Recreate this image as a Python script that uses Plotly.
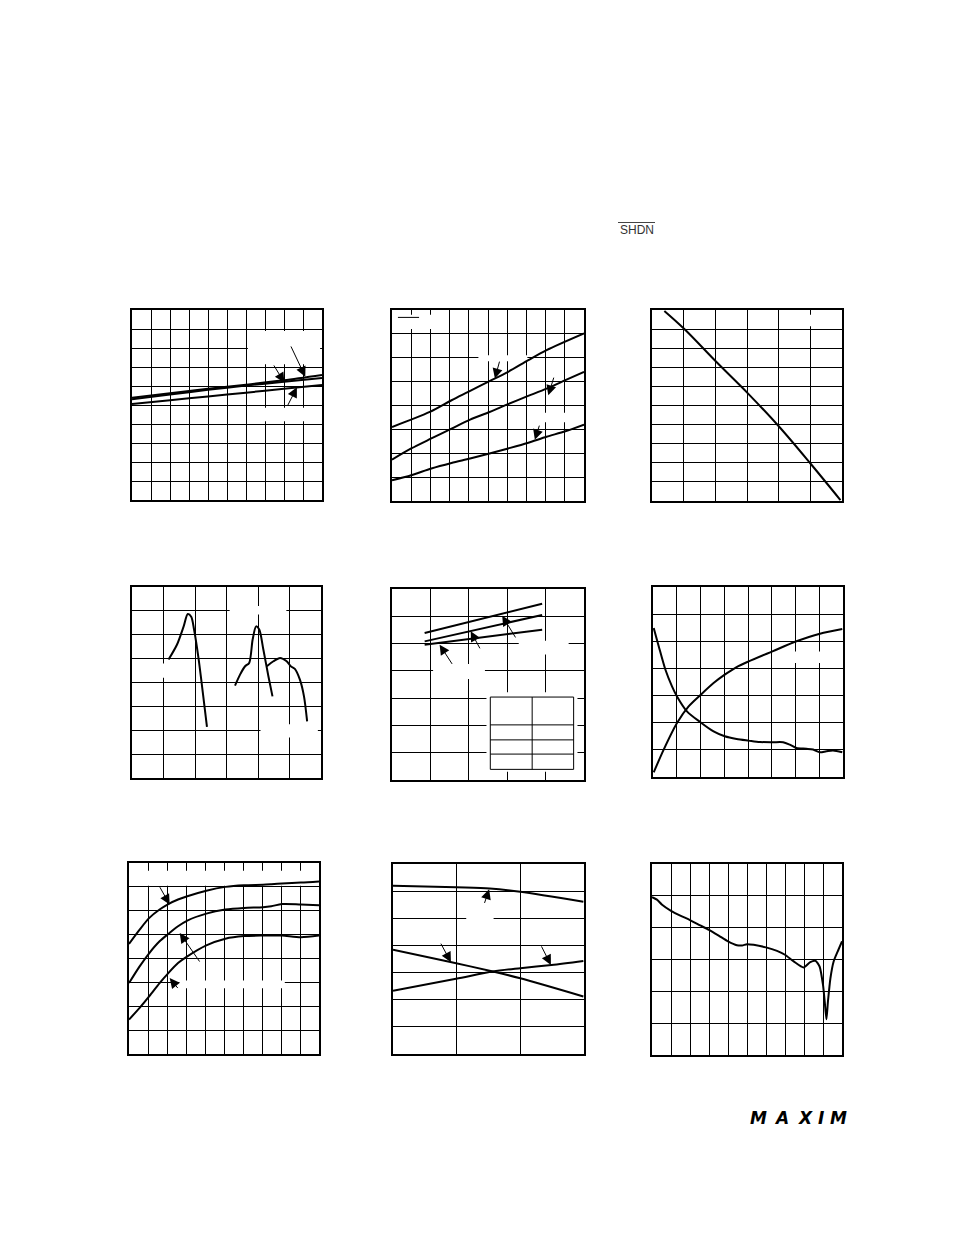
import plotly.graph_objects as go

W, H = 954, 1235
OFF = 8  # page body margin offset in the browser

# ---------------- data (grid units) ----------------
# Panel 1: three nearly parallel curves
p1_x = [0, 2, 4, 6, 8, 10]
p1_a = [5.38, 5.62, 5.85, 6.07, 6.30, 6.58]
p1_b = [5.30, 5.55, 5.80, 6.02, 6.22, 6.42]
p1_c = [5.05, 5.25, 5.45, 5.65, 5.85, 6.05]

# Panel 2: three rising curves
p2_top_x = [0, 1.97, 3.1, 3.97, 5.08, 6.05, 7.1, 8.05, 10]
p2_top_y = [3.1, 3.73, 4.22, 4.57, 5.02, 5.41, 5.9, 6.32, 7.02]
p2_x = [0, 1.0, 2.05, 3.1, 4.07, 5.08, 6.05, 7.06, 8.05, 9.03, 10]
p2_mid = [1.73, 2.2, 2.62, 3.03, 3.41, 3.73, 4.06, 4.39, 4.71, 5.06, 5.41]
p2_bot = [0.87, 1.08, 1.36, 1.59, 1.78, 1.99, 2.2, 2.43, 2.69, 2.92, 3.2]

# Panel 3: falling curve
p3_x = [0.39, 1.03, 2.02, 3.02, 4.01, 5.01, 5.95]
p3_y = [9.95, 8.99, 7.3, 5.65, 3.9, 1.95, 0.05]

# Panel 4: three peaked curves
p4_ax = [1.16, 1.43, 1.64, 1.77, 1.88, 1.97, 2.11, 2.25, 2.38]
p4_ay = [4.96, 5.59, 6.35, 6.87, 6.75, 6.22, 5.03, 3.56, 2.14]
p4_bx = [3.27, 3.43, 3.59, 3.72, 3.83, 3.94, 4.04, 4.17, 4.33, 4.46]
p4_by = [3.87, 4.33, 4.68, 4.82, 5.80, 6.35, 6.22, 5.38, 4.26, 3.42]
p4_cx = [4.28, 4.49, 4.70, 4.91, 5.04, 5.17, 5.33, 5.46, 5.56]
p4_cy = [4.68, 4.89, 5.03, 4.89, 4.68, 4.57, 4.12, 3.42, 2.37]

# Panel 5: three straight lines
p5_x = [0.85, 3.91]
p5_top = [5.39, 6.46]
p5_mid = [5.08, 6.05]
p5_bot = [4.96, 5.51]

# Panel 6: rising and falling curves
p6_rx = [0.03, 0.45, 1.01, 1.5, 2.01, 2.55, 3.02, 3.52, 4.03, 5.03, 6.04, 7.03, 7.97]
p6_ry = [0.17, 1.01, 1.99, 2.6, 3.03, 3.46, 3.77, 4.05, 4.26, 4.63, 5.0, 5.28, 5.45]
p6_fx = [0.03, 0.24, 0.52, 0.8, 1.01, 1.43, 2.01, 2.55, 3.02, 3.52, 4.03, 4.5, 5.03,
         5.48, 5.76, 6.04, 6.46, 6.74, 7.03, 7.3, 7.58, 7.97]
p6_fy = [5.49, 4.82, 3.96, 3.34, 2.97, 2.42, 2.01, 1.68, 1.5, 1.4, 1.34, 1.29, 1.28,
         1.28, 1.19, 1.07, 1.04, 1.01, 0.91, 0.95, 0.98, 0.91]

# Panel 7: three saturating curves
p7_x = [0, 0.56, 1.07, 1.61, 2.07, 2.58, 3.07, 4.07, 5.07, 6.05, 7.05, 7.49, 8.05, 9.05, 10]
p7_top = [4.61, 5.21, 5.70, 6.05, 6.28, 6.47, 6.61, 6.84, 7.00, 7.07, 7.09, 7.11, 7.14, 7.18, 7.23]
p7_mid = [2.97, 3.67, 4.23, 4.72, 5.03, 5.35, 5.59, 5.88, 6.05, 6.12, 6.15, 6.19, 6.28, 6.26, 6.23]
p7_bot = [1.44, 1.93, 2.42, 2.97, 3.39, 3.81, 4.09, 4.55, 4.83, 4.94, 4.96, 4.96, 4.96, 4.89, 4.96]

# Panel 8: three curves
p8_tx = [0, 0.99, 1.52, 2.0, 2.99]
p8_ty = [6.2, 6.14, 6.1, 5.98, 5.61]
p8_fx = [0, 0.92, 1.57, 2.0, 2.99]
p8_fy = [3.84, 3.38, 3.04, 2.79, 2.12]
p8_rx = [0, 0.99, 1.57, 2.0, 2.49, 2.99]
p8_ry = [2.33, 2.77, 3.04, 3.16, 3.28, 3.43]

# Panel 9: response with notch
p9_x = [0, 0.26, 0.53, 1.0, 1.49, 2.0, 2.54, 3.0, 3.51, 4.0, 4.47, 4.74, 5.0, 5.35, 6.0,
        6.58, 7.0, 7.46, 7.98, 8.33, 8.6, 8.82, 9.0, 9.09, 9.18, 9.26, 9.39, 9.56, 9.77, 10]
p9_y = [4.96, 4.88, 4.72, 4.53, 4.38, 4.24, 4.07, 3.93, 3.75, 3.57, 3.45, 3.44, 3.48, 3.46, 3.38,
        3.27, 3.15, 2.94, 2.75, 2.92, 2.96, 2.78, 2.2, 1.68, 1.12, 1.68, 2.41, 2.94, 3.25, 3.57]

# Arrow annotations: (panel, tail_x, tail_y, head_x, head_y)
arrows = [
    (1, 8.33, 8.16, 9.12, 6.49), (1, 7.42, 7.16, 8.02, 6.18), (1, 8.16, 4.91, 8.68, 5.93),
    (2, 5.62, 5.9, 5.36, 5.13), (2, 8.45, 5.23, 8.14, 4.43), (2, 7.7, 3.22, 7.44, 2.57),
    (5, 1.59, 4.2, 1.24, 4.96), (5, 2.31, 4.77, 2.05, 5.45), (5, 3.24, 5.17, 2.87, 6.02),
    (7, 1.58, 7.05, 2.14, 6.26), (7, 3.77, 3.81, 2.67, 5.07), (7, 2.63, 2.7, 2.14, 3.18),
    (8, 1.43, 5.51, 1.51, 6.07), (8, 0.74, 4.12, 0.91, 3.38), (8, 2.32, 4.02, 2.48, 3.28),
]

# Panel 5 inset table (grid units)
tbl_x = [2.56, 3.65, 4.73]
tbl_y = [0.39, 0.95, 1.47, 2.02, 3.04]

# ---------------- layout geometry ----------------
# (left px, right px, top px, bottom px, columns, rows)
panels = [
    (132, 322, 310, 500, 10, 10),
    (392, 584, 310, 501, 10, 8),
    (652, 842, 310, 501, 6, 10),
    (132, 321, 587, 778, 6, 8),
    (392, 584, 589, 780, 5, 7),
    (653, 843, 587, 777, 8, 7),
    (129, 319, 863, 1054, 10, 8),
    (393, 584, 864, 1054, 3, 7),
    (652, 842, 864, 1055, 10, 6),
]

# white label backgrounds (x0, x1, y0, y1) per panel, grid units
blank = {
    1: [(6.1, 9.9, 7.15, 8.9), (6.2, 9.9, 4.15, 4.85)],
    2: [(0.05, 2.2, 7.2, 7.8), (4.5, 7.05, 5.85, 6.1), (7.1, 9.95, 3.3, 3.7)],
    3: [(4.05, 5.9, 9.15, 9.75)],
    4: [(3.1, 4.9, 6.85, 7.2), (0.05, 1.1, 4.2, 4.8), (4.08, 5.9, 1.7, 2.25)],
    5: [(2.46, 4.83, 0.3, 3.22), (1.07, 2.42, 3.7, 4.25), (3.3, 4.6, 4.6, 5.1)],
    6: [(5.9, 7.6, 4.2, 4.62)],
    7: [(0.05, 9.93, 7.05, 7.68), (2.65, 8.2, 2.75, 3.08)],
    8: [(1.15, 1.58, 4.8, 5.15)],
}

def px(x):
    return (x - OFF) / W

def py(y):
    return 1 - (y - OFF) / H

fig = go.Figure()

def ax(i):
    return ("" if i == 1 else str(i))

for i, (x0, x1, y0, y1, nc, nr) in enumerate(panels, start=1):
    s = ax(i)
    common = dict(showgrid=True, gridcolor="black", gridwidth=1, showline=True,
                  linecolor="black", linewidth=2, mirror=True, showticklabels=False,
                  ticks="", zeroline=False, fixedrange=True, dtick=1, tick0=0)
    fig.update_layout({
        f"xaxis{s}": dict(domain=[px(x0), px(x1)], range=[0, nc], anchor=f"y{s}", **common),
        f"yaxis{s}": dict(domain=[py(y1), py(y0)], range=[0, nr], anchor=f"x{s}", **common),
    })

def curve(i, x, y, smooth=0.8):
    s = ax(i)
    fig.add_trace(go.Scatter(x=x, y=y, mode="lines", xaxis=f"x{s}", yaxis=f"y{s}",
                             line=dict(color="black", width=2, shape="spline", smoothing=smooth),
                             showlegend=False, hoverinfo="skip"))

curve(1, p1_x, p1_a); curve(1, p1_x, p1_b); curve(1, p1_x, p1_c)
curve(2, p2_top_x, p2_top_y); curve(2, p2_x, p2_mid); curve(2, p2_x, p2_bot)
curve(3, p3_x, p3_y, 1.0)
curve(4, p4_ax, p4_ay); curve(4, p4_bx, p4_by); curve(4, p4_cx, p4_cy)
curve(5, p5_x, p5_top); curve(5, p5_x, p5_mid); curve(5, p5_x, p5_bot)
curve(6, p6_rx, p6_ry); curve(6, p6_fx, p6_fy)
curve(7, p7_x, p7_top); curve(7, p7_x, p7_mid); curve(7, p7_x, p7_bot)
curve(8, p8_tx, p8_ty); curve(8, p8_fx, p8_fy); curve(8, p8_rx, p8_ry)
curve(9, p9_x, p9_y, 0.6)

shapes = []
for i, boxes in blank.items():
    s = ax(i)
    for (bx0, bx1, by0, by1) in boxes:
        shapes.append(dict(type="rect", xref=f"x{s}", yref=f"y{s}", x0=bx0, x1=bx1, y0=by0, y1=by1,
                           fillcolor="white", line=dict(width=0), layer="between"))

# inset table in panel 5
shapes.append(dict(type="rect", xref="x5", yref="y5", x0=tbl_x[0], x1=tbl_x[-1], y0=tbl_y[0], y1=tbl_y[-1],
                   line=dict(color="black", width=1), layer="above"))
shapes.append(dict(type="line", xref="x5", yref="y5", x0=tbl_x[1], x1=tbl_x[1], y0=tbl_y[0], y1=tbl_y[-1],
                   line=dict(color="black", width=1)))
for ty in tbl_y[1:-1]:
    shapes.append(dict(type="line", xref="x5", yref="y5", x0=tbl_x[0], x1=tbl_x[-1], y0=ty, y1=ty,
                       line=dict(color="black", width=1)))
# short legend stroke in panel 2
shapes.append(dict(type="line", xref="x2", yref="y2", x0=0.31, x1=1.41, y0=7.69, y1=7.69,
                   line=dict(color="black", width=1)))
# overline of SHDN
shapes.append(dict(type="line", xref="paper", yref="paper", x0=px(618), x1=px(655),
                   y0=py(222.5), y1=py(222.5), line=dict(color="#444", width=1)))

annotations = []
for (i, tx, ty, hx, hy) in arrows:
    s = ax(i)
    annotations.append(dict(x=hx, y=hy, ax=tx, ay=ty, xref=f"x{s}", yref=f"y{s}",
                            axref=f"x{s}", ayref=f"y{s}", text="", showarrow=True,
                            arrowhead=2, arrowsize=2, arrowwidth=1, arrowcolor="black"))

annotations.append(dict(x=px(636.5), y=py(229.5), xref="paper", yref="paper", text="SHDN",
                        showarrow=False, font=dict(family="Liberation Sans, Arial", size=12, color="#333"),
                        xanchor="center", yanchor="middle"))

logo = ["M", "A", "X", "I", "M"]
logo_x = [758, 781, 805, 821, 838]
for ch, lx in zip(logo, logo_x):
    annotations.append(dict(x=px(lx), y=py(1118), xref="paper", yref="paper",
                            text=f"<b><i>{ch}</i></b>", showarrow=False,
                            font=dict(family="DejaVu Sans", size=17, color="black"),
                            xanchor="center", yanchor="middle"))

fig.update_layout(width=W, height=H, margin=dict(l=0, r=0, t=0, b=0),
                  paper_bgcolor="white", plot_bgcolor="white", showlegend=False,
                  shapes=shapes, annotations=annotations)

fig.write_html("out.html", config={"displayModeBar": False})
